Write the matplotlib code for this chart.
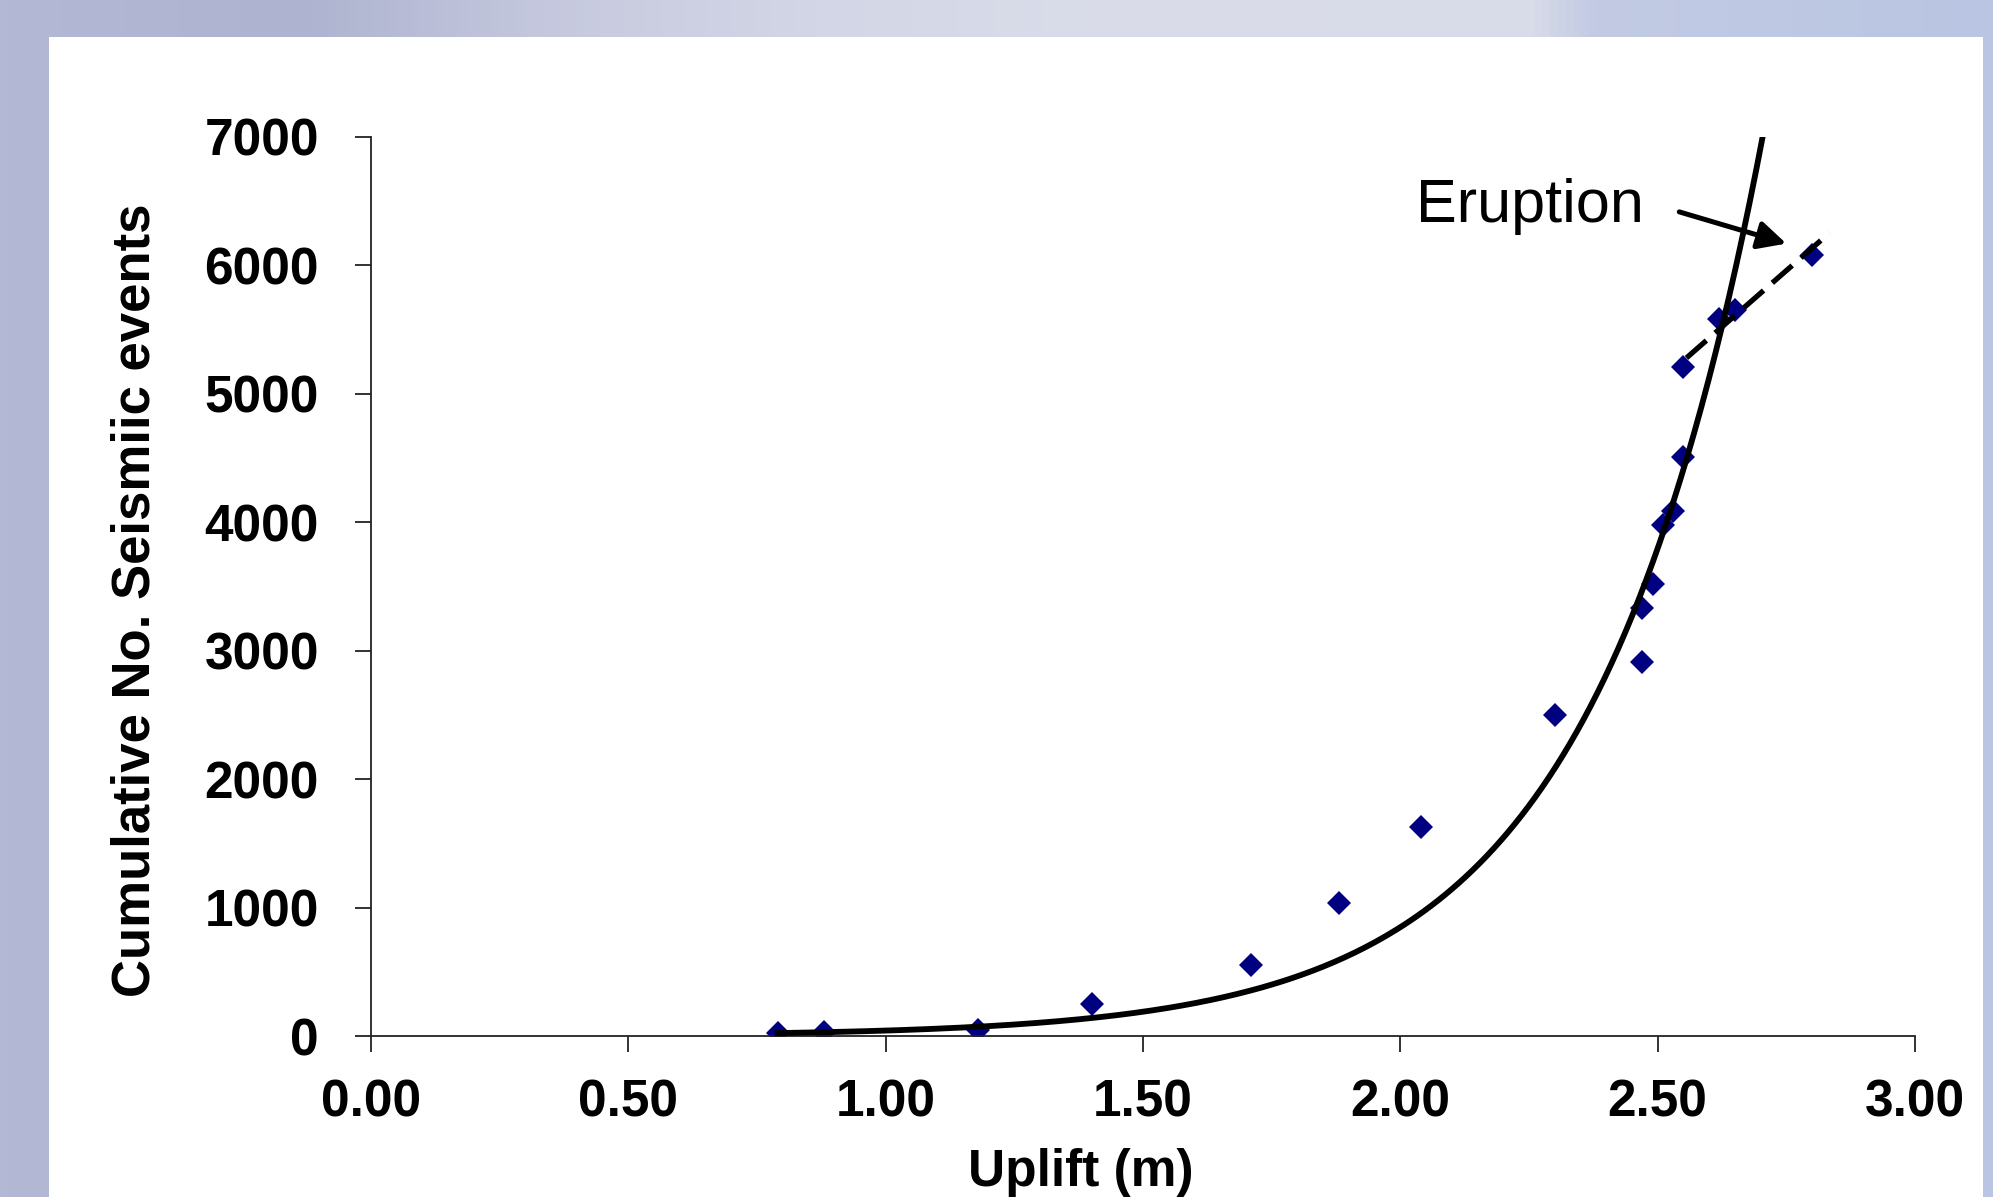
import numpy as np
import matplotlib
matplotlib.use("Agg")
import matplotlib.pyplot as plt
from matplotlib.colors import LinearSegmentedColormap
from matplotlib.patches import Rectangle
from matplotlib import font_manager

# Observed points: uplift (m) vs cumulative seismic events
uplift = [0.79, 0.88, 1.18, 1.40, 1.71, 1.88, 2.04, 2.30, 2.47, 2.47,
          2.49, 2.51, 2.53, 2.55, 2.55, 2.62, 2.65, 2.80]
events = [20, 30, 50, 250, 555, 1035, 1630, 2500, 2910, 3330,
          3520, 3980, 4090, 4510, 5210, 5580, 5650, 6080]

# Exponential trendline  y = a * exp(b * x)
FIT_A = 2.1
FIT_B = 3.0
FIT_RANGE = (0.79, 2.80)

# Linear trend through the last points (dashed)
dash_x = [2.556, 2.834]
dash_y = [5280, 6254]

x_ticks = [0.0, 0.5, 1.0, 1.5, 2.0, 2.5, 3.0]
y_ticks = [0, 1000, 2000, 3000, 4000, 5000, 6000, 7000]

# slide background colour stops, left -> right
bg_stops = ["#b3b8d4", "#aeb3d0", "#c9cce0", "#d3d6e6", "#dadde9",
            "#d8dbe8", "#c3cbe4", "#b9c5e2"]
bg_pos = [0.0, 0.15, 0.30, 0.41, 0.57, 0.77, 0.80, 1.0]

W, H = 1993, 1197
BASE = "Liberation Sans"


def narrow_family():
    try:
        font_manager.findfont("Liberation Sans Narrow", fallback_to_default=False)
        return "Liberation Sans Narrow", 46
    except ValueError:
        return BASE, 38


fig = plt.figure(figsize=(W / 100, H / 100), dpi=100)

# background gradient + white panel
bg = fig.add_axes([0, 0, 1, 1])
bg.axis("off")
cmap = LinearSegmentedColormap.from_list("slide", list(zip(bg_pos, bg_stops)))
grad = np.linspace(0, 1, 512)[None, :]
bg.imshow(grad, cmap=cmap, aspect="auto", extent=[0, 1, 0, 1])
bg.add_patch(Rectangle((49 / W, 0), (1983 - 49) / W, (H - 37) / H,
                       facecolor="white", edgecolor="none"))
bg.set_xlim(0, 1)
bg.set_ylim(0, 1)

ax = fig.add_axes([371 / W, 161 / H, (1915 - 371) / W, (1036 - 137) / H])
ax.set_facecolor("none")

ax.plot(uplift, events, "D", color="#000080", ms=12, mew=0, zorder=2)

cx = np.linspace(FIT_RANGE[0], FIT_RANGE[1], 300)
ax.plot(cx, FIT_A * np.exp(FIT_B * cx), color="black", lw=4.2, zorder=3)
ax.plot(dash_x, dash_y, color="black", lw=3.8, dashes=(5, 2.2), zorder=3)

ax.annotate("", xy=(2.75, 6170), xytext=(2.542, 6417),
            arrowprops=dict(arrowstyle="-|>,head_length=0.5,head_width=0.25",
                            lw=3.6, color="black", shrinkA=0, shrinkB=0,
                            mutation_scale=34))
ax.text(2.031, 6340, "Eruption", fontsize=44, family=BASE, va="baseline")

ax.set_xlim(0, 3)
ax.set_ylim(0, 7000)
ax.set_xticks(x_ticks)
ax.set_yticks(y_ticks)
ax.set_xticklabels([f"{v:.2f}" for v in x_ticks])
ax.set_yticklabels([str(v) for v in y_ticks])

for side in ("top", "right"):
    ax.spines[side].set_visible(False)
for side in ("left", "bottom"):
    ax.spines[side].set_color("#222222")
    ax.spines[side].set_linewidth(1.3)

ax.tick_params(direction="out", length=11.5, width=1.3, color="#222222")
ax.tick_params(axis="x", pad=19)
ax.tick_params(axis="y", pad=26)
for lab in ax.get_xticklabels() + ax.get_yticklabels():
    lab.set_fontfamily(BASE)
    lab.set_fontweight("bold")
    lab.set_fontsize(37)

fam, size = narrow_family()
fig.text(136 / W, 1 - 600 / H, "Cumulative No. Seismiic events", rotation=90,
         ha="center", va="center", fontsize=size, fontweight="bold", family=fam)
fig.text(1081 / W, 1 - 1148 / H, "Uplift (m)", ha="center", va="top",
         fontsize=37, fontweight="bold", family=BASE)

fig.savefig("out.png", dpi=100)
